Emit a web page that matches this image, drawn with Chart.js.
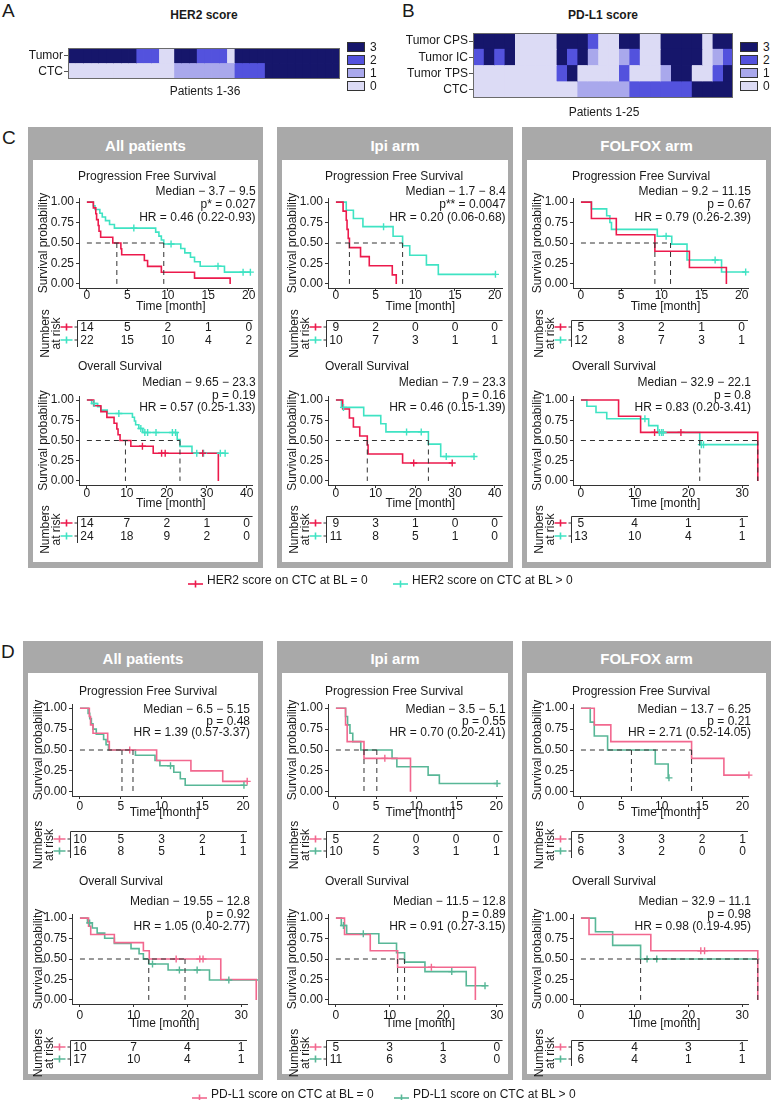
<!DOCTYPE html>
<html>
<head>
<meta charset="utf-8">
<title>HER2 / PD-L1 score on CTC and survival</title>
<script src="https://cdn.jsdelivr.net/npm/chart.js@4.4.1/dist/chart.umd.min.js"></script>
<style>
  html, body { margin: 0; background: #fff; }
  #page { position: relative; width: 774px; height: 1100px; overflow: hidden;
          font-family: "Liberation Sans", Arial, Helvetica, sans-serif; color: #1a1a1a; }
  .t { position: absolute; white-space: nowrap; line-height: 1; }
  .box { position: absolute; background: #a9a9a9; }
  .box .inner { position: absolute; left: 5px; right: 5px; bottom: 6px; background: #fff; }
  .sq { position: absolute; width: 16px; height: 8px; border: 1px solid #333; }
  canvas { position: absolute; }
</style>
</head>
<body>
<div id="page"></div>
<script>
/* ── Heatmap data (score 0-3, one entry per patient) ─────────────── */
const SCORE_LEVELS = [3, 2, 1, 0];
const SCORE_COLORS = ["#dcdbf5", "#a9a8ec", "#5352dd", "#16166b"]; // index = score

const HER2_ROWS  = ["Tumor", "CTC"];
const HER2_TUMOR = [3,3,3,3,3,3,3,3,3, 2,2,2, 0,0, 3,3,3, 2,2,2,2, 0, 3,3,3,3,3,3,3,3,3,3,3,3,3,3];
const HER2_CTC   = [0,0,0,0,0,0,0,0,0,0,0,0,0,0, 1,1,1,1,1,1,1,1, 2,2,2,2, 3,3,3,3,3,3,3,3,3,3];

const PDL1_ROWS = ["Tumor CPS", "Tumor IC", "Tumor TPS", "CTC"];
const PDL1_CPS  = [3,3,3,3,0,0,0,0,3,3,3,2,0,0,3,3,0,0,3,3,3,3,0,3,3];
const PDL1_IC   = [2,3,2,3,0,0,0,0,3,2,3,1,0,0,1,2,0,0,3,3,3,3,0,1,2];
const PDL1_TPS  = [0,0,0,0,0,0,0,0,2,3,0,0,0,0,2,0,0,0,1,3,3,0,0,2,3];
const PDL1_CTC  = [0,0,0,0,0,0,0,0,0,0, 1,1,1,1,1, 2,2,2,2,2,2, 3,3,3,3];

/* ── Survival data: [time, survival] steps, per arm (All, Ipi, FOLFOX) ── */
const ARMS = ["All patients", "Ipi arm", "FOLFOX arm"];
const PFS_TICKS = [0, 5, 10, 15, 20];
const OS_TICKS_40 = [0, 10, 20, 30, 40];
const OS_TICKS_30 = [0, 10, 20, 30];
const Y_TICKS = [0, 0.25, 0.5, 0.75, 1];

// C – HER2 on CTC: neg = score 0, pos = score > 0
const C_PFS_NEG = [
  [[0,1],[0.8,.929],[1.1,.857],[1.2,.786],[1.4,.714],[1.5,.643],[1.7,.571],[3.2,.5],[4.2,.429],[4.3,.357],[7.1,.286],[7.5,.214],[9.2,.143],[13.3,.071],[17.7,0]],
  [[0,1],[0.9,.889],[1.3,.778],[1.4,.667],[1.55,.556],[1.7,.444],[3.1,.333],[4.2,.222],[7.1,.111],[7.6,0]],
  [[0,1],[1.3,.8],[4.4,.6],[9.2,.4],[13.5,.2],[18.1,0]]
];
const C_PFS_NEG_CENS = [[], [], []];
const C_PFS_POS = [
  [[0,1],[0.8,.955],[1.0,.909],[1.6,.864],[1.9,.818],[2.3,.773],[2.8,.727],[3.4,.682],[8.5,.633],[8.9,.584],[9.2,.536],[9.5,.487],[11.6,.433],[12.1,.379],[12.8,.325],[13.3,.271],[14.0,.216],[17.0,.144],[20.2,.144]],
  [[0,1],[1.3,.9],[2.2,.8],[3.4,.7],[7.2,.583],[8.4,.467],[9.3,.35],[11.4,.233],[12.9,.117],[20.1,.117]],
  [[0,1],[1.3,.917],[3.2,.833],[3.6,.75],[3.8,.667],[9.5,.583],[11.3,.486],[13.2,.292],[17.5,.146],[20.5,.146]]
];
const C_PFS_POS_CENS = [
  [[5.8,.682],[10.4,.487],[16.2,.216],[19.3,.144],[20.2,.144]],
  [[6.0,.7],[20.1,.117]],
  [[10.6,.583],[16.7,.292],[20.5,.146]]
];
const C_PFS_MEDIAN = [[3.7, 9.5], [1.7, 8.4], [9.2, 11.15]];
const C_PFS_P  = ["p* = 0.027", "p** = 0.0047", "p = 0.67"];
const C_PFS_HR = ["HR = 0.46 (0.22-0.93)", "HR = 0.20 (0.06-0.68)", "HR = 0.79 (0.26-2.39)"];
const C_PFS_RISK_NEG = [[14,5,2,1,0], [9,2,0,0,0], [5,3,2,1,0]];
const C_PFS_RISK_POS = [[22,15,10,4,2], [10,7,3,1,1], [12,8,7,3,1]];
const C_PFS_XMAX = [19.5, 20, 19.8];

const C_OS_NEG = [
  [[0,1],[1.7,.929],[3.5,.857],[5.0,.786],[6.8,.714],[7.5,.643],[7.8,.571],[8.3,.5],[11.0,.429],[16.6,.343],[32.9,0]],
  [[0,1],[1.7,.889],[3.4,.778],[4.4,.667],[6.0,.556],[7.9,.444],[8.1,.333],[16.8,.222],[29.3,.222]],
  [[0,1],[7.0,.8],[11.1,.6],[32.9,0]]
];
const C_OS_NEG_CENS = [
  [[13.9,.429],[18.7,.343],[19.6,.343],[29.0,.343]],
  [[19.6,.222],[29.3,.222]],
  [[13.7,.6],[18.6,.6]]
];
const C_OS_POS = [
  [[0,1],[1.2,.958],[2.7,.917],[3.5,.875],[5.1,.833],[11.4,.787],[11.9,.741],[12.2,.694],[13.0,.648],[14.0,.598],[22.6,.513],[23.3,.427],[26.3,.342],[34.6,.342]],
  [[0,1],[1.4,.909],[7.0,.808],[11.3,.707],[12.6,.606],[23.3,.455],[26.4,.303],[34.8,.303]],
  [[0,1],[1.1,.923],[2.8,.846],[4.8,.769],[12.6,.684],[14.3,.598],[22.1,.449],[33.0,.449]]
];
const C_OS_POS_CENS = [
  [[1.8,.958],[8.0,.833],[13.5,.648],[14.5,.598],[15.2,.598],[17.3,.598],[21.4,.598],[22.2,.598],[27.5,.342],[29.2,.342],[33.4,.342],[34.6,.342]],
  [[1.9,.909],[17.8,.606],[21.5,.606],[27.8,.303],[34.8,.303]],
  [[11.9,.769],[14.6,.598],[15.0,.598],[15.3,.598],[22.4,.449],[22.8,.449],[33.0,.449]]
];
const C_OS_MEDIAN = [[9.65, 23.3], [7.9, 23.3], [32.9, 22.1]];
const C_OS_P  = ["p = 0.19", "p = 0.16", "p = 0.8"];
const C_OS_HR = ["HR = 0.57 (0.25-1.33)", "HR = 0.46 (0.15-1.39)", "HR = 0.83 (0.20-3.41)"];
const C_OS_RISK_NEG = [[14,7,2,1,0], [9,3,1,0,0], [5,4,1,1]];
const C_OS_RISK_POS = [[24,18,9,2,0], [11,8,5,1,0], [13,10,4,1]];
const C_OS_XMAX = [39.5, 40, 29.6];

// D – PD-L1 on CTC
const D_PFS_NEG = [
  [[0,1],[1.15,.9],[1.3,.8],[1.6,.7],[3.4,.6],[3.6,.5],[9.4,.375],[13.6,.25],[17.5,.125],[20.5,.125]],
  [[0,1],[1.2,.8],[1.4,.6],[3.5,.4],[9.3,0]],
  [[0,1],[1.65,.8],[3.7,.6],[13.7,.4],[17.7,.2],[20.8,.2]]
];
const D_PFS_NEG_CENS = [[[6.1,.5],[20.5,.125]], [[6.1,.4]], [[20.8,.2]]];
const D_PFS_POS = [
  [[0,1],[1.0,.9375],[1.2,.875],[1.4,.8125],[1.6,.75],[2.0,.6875],[2.9,.625],[3.2,.5625],[3.5,.5],[6.8,.4375],[9.2,.375],[9.8,.3125],[11.5,.234],[12.3,.156],[12.9,.078],[20.1,.078]],
  [[0,1],[1.2,.9],[1.45,.8],[1.75,.7],[2.1,.6],[3.1,.5],[7.0,.4],[7.6,.3],[11.5,.2],[12.9,.1],[20.1,.1]],
  [[0,1],[1.15,.833],[1.65,.667],[3.3,.5],[9.2,.333],[10.8,.167],[10.9,.167]]
];
const D_PFS_POS_CENS = [[[11.1,.3125],[20.1,.078]], [[20.1,.1]], [[10.9,.167]]];
const D_PFS_MEDIAN = [[6.5, 5.15], [3.5, 5.1], [13.7, 6.25]];
const D_PFS_P  = ["p = 0.48", "p = 0.55", "p = 0.21"];
const D_PFS_HR = ["HR = 1.39 (0.57-3.37)", "HR = 0.70 (0.20-2.41)", "HR = 2.71 (0.52-14.05)"];
const D_PFS_RISK_NEG = [[10,5,3,2,1], [5,2,0,0,0], [5,3,3,2,1]];
const D_PFS_RISK_POS = [[16,8,5,1,1], [10,5,3,1,1], [6,3,2,0,0]];
const D_PFS_XMAX = [19.5, 19.8, 19.7];

const D_OS_NEG = [
  [[0,1],[1.6,.9],[2.0,.8],[6.4,.7],[11.8,.6],[12.9,.5],[26.2,.25],[32.8,0]],
  [[0,1],[1.6,.8],[6.4,.6],[11.5,.4],[26.0,0]],
  [[0,1],[1.5,.8],[13.0,.6],[32.9,0]]
];
const D_OS_NEG_CENS = [[[17.9,.5],[22.3,.5],[22.9,.5]], [[17.8,.4]], [[22.3,.6],[23.0,.6]]];
const D_OS_POS = [
  [[0,1],[1.4,.941],[2.3,.878],[3.2,.816],[4.6,.753],[6.4,.69],[9.5,.627],[11.0,.565],[11.8,.502],[12.8,.439],[16.4,.366],[24.1,.244],[33.4,.244]],
  [[0,1],[1.0,.909],[2.0,.808],[8.0,.693],[11.3,.577],[12.8,.462],[16.6,.346],[24.3,.173],[27.8,.173]],
  [[0,1],[2.7,.833],[5.9,.667],[11.1,.5],[33.2,.5]]
];
const D_OS_POS_CENS = [
  [[1.8,.941],[13.5,.439],[18.5,.366],[21.8,.366],[27.7,.244],[33.4,.244]],
  [[1.4,.909],[5.1,.808],[21.6,.346],[27.8,.173]],
  [[12.3,.5],[14.1,.5],[33.2,.5]]
];
const D_OS_MEDIAN = [[19.55, 12.8], [11.5, 12.8], [32.9, 11.1]];
const D_OS_P  = ["p = 0.92", "p = 0.89", "p = 0.98"];
const D_OS_HR = ["HR = 1.05 (0.40-2.77)", "HR = 0.91 (0.27-3.15)", "HR = 0.98 (0.19-4.95)"];
const D_OS_RISK_NEG = [[10,7,4,1], [5,3,1,0], [5,4,3,1]];
const D_OS_RISK_POS = [[17,10,4,1], [11,6,3,0], [6,4,1,1]];
const D_OS_XMAX = [29.6, 29.6, 29.6];

/* ── Styling / layout ───────────────────────────────────────────── */
const FONT = '"Liberation Sans", Arial, Helvetica, sans-serif';
const INK = "#1a1a1a";
const C_COLORS = ["#ec1a4c", "#3fe3c3"];
const D_COLORS = ["#f2688f", "#58b797"];
const PLOT_W = 175;      // width of every KM plot area
const X_AXIS_H = 20;

const page = document.getElementById("page");

function text(str, x, y, o = {}) {
  const d = document.createElement("div");
  d.className = "t";
  d.textContent = str;
  const ax = o.align === "center" ? "-50%" : o.align === "right" ? "-100%" : "0";
  d.style.cssText = `left:${x}px;top:${y}px;font-size:${o.size || 12}px;` +
    `font-weight:${o.bold ? "bold" : "normal"};color:${o.color || INK};` +
    `transform:translate(${ax},-50%)`;
  page.appendChild(d);
  return d;
}

function canvasAt(x, y, w, h) {
  const c = document.createElement("canvas");
  c.width = w; c.height = h;
  c.style.left = x + "px"; c.style.top = y + "px";
  c.style.width = w + "px"; c.style.height = h + "px";
  page.appendChild(c);
  return c;
}

const BASE = { animation: false, responsive: false, devicePixelRatio: 1, events: [] };

/* ── Heatmaps (stacked horizontal bars, one dataset per patient) ── */
const frame = {
  id: "frame",
  afterDatasetsDraw(chart) {
    const a = chart.chartArea, c = chart.ctx;
    c.save();
    c.strokeStyle = "#6b6b6b"; c.lineWidth = 1;
    c.strokeRect(Math.round(a.left) + 0.5, Math.round(a.top) + 0.5,
                 Math.round(a.right - a.left) - 1, Math.round(a.bottom - a.top) - 1);
    c.restore();
  }
};

// (x, areaTop) = top-left of the cell area's canvas row; yW = label column width
function heatmap(x, areaTop, w, areaH, yW, rows, matrix) {
  const PAD = 10;
  const n = matrix[0].length;
  const datasets = [];
  for (let i = 0; i < n; i++) {
    datasets.push({
      data: rows.map(() => 1),
      backgroundColor: matrix.map(r => SCORE_COLORS[r[i]]),
      borderWidth: 0, barPercentage: 1, categoryPercentage: 1, inflateAmount: 0.4
    });
  }
  new Chart(canvasAt(x, areaTop - PAD, w, areaH + 2 * PAD), {
    type: "bar",
    data: { labels: rows, datasets },
    options: {
      ...BASE,
      indexAxis: "y",
      layout: { padding: { top: PAD, bottom: PAD, right: 2, left: 0 } },
      plugins: { legend: { display: false }, tooltip: { enabled: false } },
      scales: {
        x: { stacked: true, min: 0, max: n, display: false },
        y: {
          stacked: true,
          afterFit: s => { s.width = yW; },
          grid: { offset: false, drawOnChartArea: false, tickLength: 4, color: "#555" },
          border: { display: false },
          ticks: { color: INK, font: { family: FONT, size: 12 }, padding: 1, autoSkip: false }
        }
      }
    },
    plugins: [frame]
  });
}

function scoreLegend(x, tops) {
  SCORE_LEVELS.forEach((s, i) => {
    const d = document.createElement("div");
    d.className = "sq";
    d.style.left = x + "px"; d.style.top = tops[i] + "px";
    d.style.background = SCORE_COLORS[s];
    page.appendChild(d);
    text(String(s), x + 23, tops[i] + 5, { size: 12 });
  });
}

/* ── KM plots ───────────────────────────────────────────────────── */
function decor(spec, top) {
  return {
    id: "kmDecor",
    afterDraw(chart) {
      const c = chart.ctx, a = chart.chartArea, xs = chart.scales.x, g = spec.geo;
      const Y = v => v - top;
      c.save();
      c.fillStyle = INK;
      c.font = "12px " + FONT;
      c.textBaseline = "middle";
      c.textAlign = "left";
      c.fillText(spec.title, a.left - 1 + spec.titleDx, Y(g.title));
      c.textAlign = "right";
      spec.stats.forEach((s, i) => c.fillText(s, a.right + 3, Y(g.stat + i * g.gap)));
      c.textAlign = "center";
      c.fillText("Time [month]", (a.left + a.right) / 2 + 5, Y(g.time));

      // risk table
      const x0 = Math.round(a.left - 2) + 0.5, yl = Math.round(Y(g.riskLine)) + 0.5;
      c.strokeStyle = "#333"; c.lineWidth = 1;
      c.beginPath();
      c.moveTo(x0, yl); c.lineTo(a.right, yl);
      c.moveTo(x0, yl); c.lineTo(x0, Y(g.r2 + 7));
      c.stroke();
      [g.r1, g.r2].forEach((ry, k) => {
        const yy = Y(ry);
        c.strokeStyle = "#333"; c.lineWidth = 1;
        c.beginPath(); c.moveTo(x0 - 3, yy); c.lineTo(x0, yy); c.stroke();
        c.strokeStyle = spec.colors[k]; c.lineWidth = 1.6;
        c.beginPath();
        c.moveTo(x0 - 17, yy); c.lineTo(x0 - 5, yy);
        c.moveTo(x0 - 11, yy - 3.5); c.lineTo(x0 - 11, yy + 3.5);
        c.stroke();
        c.fillStyle = INK;
        spec.risk[k].forEach((n, i) => c.fillText(String(n), xs.getPixelForValue(spec.ticks[i]), yy + 1));
      });
      c.translate(a.left - 33, Y((g.r1 + g.r2) / 2));
      c.rotate(-Math.PI / 2);
      c.fillText("Numbers", 0, 0);
      c.fillText("at risk", 0, 11);
      c.restore();
    }
  };
}

function kmChart(spec) {
  const g = spec.geo;
  const top = g.title - 10, h = g.r2 + 26 - top;
  const yW = spec.axisX - spec.left;
  const padR = spec.width - yW - PLOT_W;
  const padT = g.top - top;
  const padB = h - (g.bottom - top) - X_AXIS_H;
  const pts = arr => arr.map(([x, y]) => ({ x, y }));
  const dash = arr => ({
    data: pts(arr), showLine: true, borderColor: "#333", borderWidth: 1,
    borderDash: [5, 4], pointRadius: 0, clip: false
  });

  const datasets = [];
  const mMax = Math.max(...spec.median);
  datasets.push(dash([[0, 0.5], [mMax, 0.5]]));
  spec.median.forEach(m => datasets.push(dash([[m, 0.5], [m, 0]])));
  [spec.negCens, spec.posCens].forEach((cens, k) => datasets.push({
    data: pts(cens), showLine: false, pointStyle: "cross", pointRadius: 3.5,
    pointBorderColor: spec.colors[k], pointBorderWidth: 1.4, borderColor: spec.colors[k], clip: false
  }));
  [spec.neg, spec.pos].forEach((curve, k) => datasets.push({
    data: pts(curve), showLine: true, stepped: "before", borderColor: spec.colors[k],
    borderWidth: 1.6, pointRadius: 0, fill: false, clip: false
  }));

  const tickFont = { family: FONT, size: 12 };
  new Chart(canvasAt(spec.left, top, spec.width, h), {
    type: "scatter",
    data: { datasets },
    options: {
      ...BASE,
      layout: { padding: { top: padT, right: padR, bottom: padB, left: 0 } },
      plugins: { legend: { display: false }, tooltip: { enabled: false } },
      scales: {
        x: {
          type: "linear", min: -0.05 * spec.xMax, max: 1.05 * spec.xMax,
          afterBuildTicks: s => { s.ticks = spec.ticks.map(v => ({ value: v })); },
          afterFit: s => { s.height = X_AXIS_H; },
          ticks: { font: tickFont, color: INK, padding: g.tickPad, maxRotation: 0, autoSkip: false },
          grid: { drawOnChartArea: false, drawTicks: true, tickLength: 3, color: "#333" },
          border: { display: true, color: "#333", width: 1 }
        },
        y: {
          type: "linear", min: -0.05, max: 1.05,
          afterBuildTicks: s => { s.ticks = Y_TICKS.map(v => ({ value: v })); },
          afterFit: s => { s.width = yW; },
          ticks: { font: tickFont, color: INK, padding: 2, callback: v => v.toFixed(2) },
          grid: { drawOnChartArea: false, drawTicks: true, tickLength: 3, color: "#333" },
          border: { display: true, color: "#333", width: 1 },
          title: { display: true, text: "Survival probability", font: tickFont, color: INK,
                   padding: { top: 3, bottom: 0 } }
        }
      }
    },
    plugins: [decor(spec, top)]
  });
}

function figure(fig) {
  fig.boxes.forEach(([l, r], k) => {
    const box = document.createElement("div");
    box.className = "box";
    box.style.cssText = `left:${l}px;top:${fig.top}px;width:${r - l}px;height:${fig.bottom - fig.top}px`;
    const inner = document.createElement("div");
    inner.className = "inner";
    inner.style.top = fig.header + "px";
    box.appendChild(inner);
    page.appendChild(box);
    text(ARMS[k], (l + r) / 2, fig.top + fig.header / 2 + 1, { size: 15, bold: true, color: "#fff", align: "center" });

    fig.rows.forEach(row => {
      kmChart({
        left: l + 5, width: r - l - 10, axisX: l + fig.axisOff[k], titleDx: fig.titleDx[k],
        geo: row.geo, title: row.title, colors: fig.colors,
        neg: row.neg[k], pos: row.pos[k], negCens: row.negCens[k], posCens: row.posCens[k],
        median: row.median[k], xMax: row.xMax[k], ticks: row.ticks[k],
        stats: [`Median \u2212 ${row.median[k][0]} \u2212 ${row.median[k][1]}`, row.p[k], row.hr[k]],
        risk: [row.riskNeg[k], row.riskPos[k]]
      });
    });
  });
}

function legendItem(x, y, color, label) {
  const d = document.createElement("div");
  d.style.cssText = `position:absolute;left:${x}px;top:${y - 5}px;width:15px;height:10px`;
  d.innerHTML = `<svg width="15" height="10"><line x1="0" y1="5" x2="15" y2="5" stroke="${color}" stroke-width="1.6"/>` +
    `<line x1="7.5" y1="1.5" x2="7.5" y2="8.5" stroke="${color}" stroke-width="1.6"/></svg>`;
  page.appendChild(d);
  text(label, x + 19, y, { size: 12 });
}

/* ── Build page ─────────────────────────────────────────────────── */
text("A", 2, 10, { size: 19 });
text("B", 402, 10, { size: 19 });
text("HER2 score", 204, 15, { size: 12, bold: true, align: "center" });
text("PD-L1 score", 603, 15, { size: 12, bold: true, align: "center" });
heatmap(0, 48, 342, 31, 68, HER2_ROWS, [HER2_TUMOR, HER2_CTC]);
heatmap(390, 33, 345, 65, 83, PDL1_ROWS, [PDL1_CPS, PDL1_IC, PDL1_TPS, PDL1_CTC]);
text("Patients 1-36", 205, 91, { size: 12, align: "center" });
text("Patients 1-25", 604, 112, { size: 12, align: "center" });
scoreLegend(347, [42, 55, 68, 81]);
scoreLegend(740, [42, 55, 68, 81]);

text("C", 2, 137, { size: 19 });
figure({
  top: 127, bottom: 568, header: 33, colors: C_COLORS,
  boxes: [[28, 263], [277, 513], [522, 771]], axisOff: [51, 51, 51], titleDx: [0, -2, 0],
  rows: [
    { title: "Progression Free Survival",
      geo: { title: 177, stat: 192, gap: 13, top: 198, bottom: 288, time: 307, tickPad: -3, riskLine: 320, r1: 327, r2: 340 },
      neg: C_PFS_NEG, pos: C_PFS_POS, negCens: C_PFS_NEG_CENS, posCens: C_PFS_POS_CENS,
      median: C_PFS_MEDIAN, p: C_PFS_P, hr: C_PFS_HR, riskNeg: C_PFS_RISK_NEG, riskPos: C_PFS_RISK_POS,
      xMax: C_PFS_XMAX, ticks: [PFS_TICKS, PFS_TICKS, PFS_TICKS] },
    { title: "Overall Survival",
      geo: { title: 367, stat: 383, gap: 12.5, top: 396, bottom: 485, time: 504, tickPad: -2, riskLine: 516, r1: 523, r2: 536 },
      neg: C_OS_NEG, pos: C_OS_POS, negCens: C_OS_NEG_CENS, posCens: C_OS_POS_CENS,
      median: C_OS_MEDIAN, p: C_OS_P, hr: C_OS_HR, riskNeg: C_OS_RISK_NEG, riskPos: C_OS_RISK_POS,
      xMax: C_OS_XMAX, ticks: [OS_TICKS_40, OS_TICKS_40, OS_TICKS_30] }
  ]
});
legendItem(188, 580, C_COLORS[0], "HER2 score on CTC at BL = 0");
legendItem(393, 580, C_COLORS[1], "HER2 score on CTC at BL > 0");

text("D", 1, 651, { size: 19 });
figure({
  top: 641, bottom: 1080, header: 32, colors: D_COLORS,
  boxes: [[23, 263], [277, 513], [522, 771]], axisOff: [49, 51, 51], titleDx: [8, -2, 0],
  rows: [
    { title: "Progression Free Survival",
      geo: { title: 692, stat: 710, gap: 11.5, top: 704, bottom: 796, time: 813, tickPad: 0, riskLine: 831, r1: 839, r2: 851 },
      neg: D_PFS_NEG, pos: D_PFS_POS, negCens: D_PFS_NEG_CENS, posCens: D_PFS_POS_CENS,
      median: D_PFS_MEDIAN, p: D_PFS_P, hr: D_PFS_HR, riskNeg: D_PFS_RISK_NEG, riskPos: D_PFS_RISK_POS,
      xMax: D_PFS_XMAX, ticks: [PFS_TICKS, PFS_TICKS, PFS_TICKS] },
    { title: "Overall Survival",
      geo: { title: 882, stat: 902, gap: 12.5, top: 914, bottom: 1004, time: 1024, tickPad: 1, riskLine: 1040, r1: 1047, r2: 1059 },
      neg: D_OS_NEG, pos: D_OS_POS, negCens: D_OS_NEG_CENS, posCens: D_OS_POS_CENS,
      median: D_OS_MEDIAN, p: D_OS_P, hr: D_OS_HR, riskNeg: D_OS_RISK_NEG, riskPos: D_OS_RISK_POS,
      xMax: D_OS_XMAX, ticks: [OS_TICKS_30, OS_TICKS_30, OS_TICKS_30] }
  ]
});
legendItem(192, 1094, D_COLORS[0], "PD-L1 score on CTC at BL = 0");
legendItem(394, 1094, D_COLORS[1], "PD-L1 score on CTC at BL > 0");
</script>
</body>
</html>
